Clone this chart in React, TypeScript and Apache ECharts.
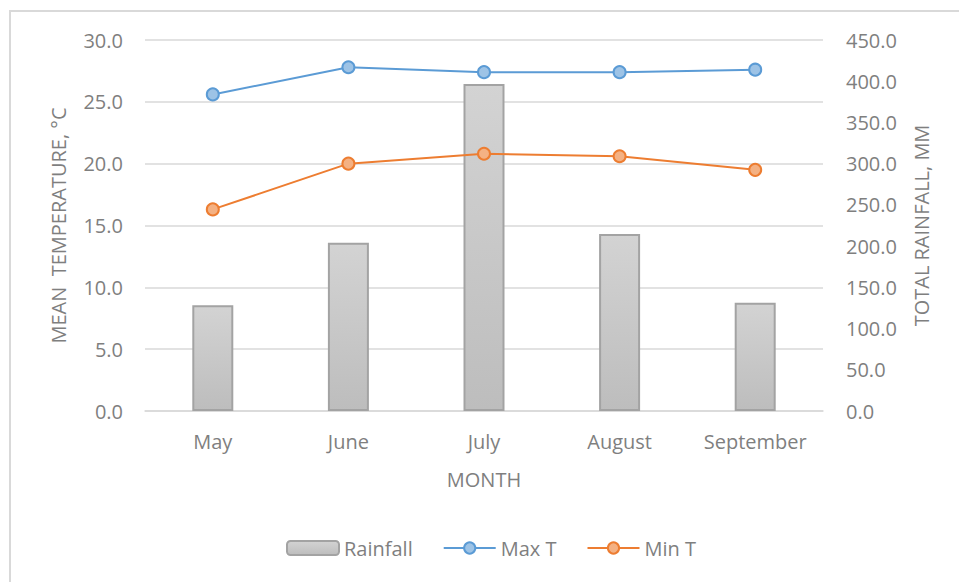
import React, { useEffect, useRef } from "react";
import * as echarts from "echarts";

const months = ["May", "June", "July", "August", "September"];
const rainfall = [128.2, 204.2, 396.7, 214.7, 131.4];
const maxT = [25.6, 27.8, 27.4, 27.4, 27.6];
const minT = [16.3, 20.0, 20.8, 20.6, 19.5];

const FONT = "'Open Sans', sans-serif";
const TEXT = "#7f7f7f";
const GRID = "#d9d9d9";

export default function App() {
  const ref = useRef<HTMLDivElement>(null);
  useEffect(() => {
    if (!ref.current) return;
    const chart = echarts.init(ref.current, null, { renderer: "svg" });
    chart.setOption({
      animation: false,
      backgroundColor: "#ffffff",
      textStyle: { fontFamily: FONT, color: TEXT },
      graphic: [
        {
          type: "rect",
          z: -10,
          silent: true,
          shape: { x: 10, y: 11, width: 1000, height: 1000 },
          style: { fill: "none", stroke: "#d9d9d9", lineWidth: 2 },
        },
      ],
      grid: { left: 145, right: 136, top: 40, bottom: 171, containLabel: false },
      legend: {
        left: 281,
        top: 533,
        itemWidth: 52,
        itemHeight: 14,
        itemGap: 30,
        textStyle: { fontFamily: FONT, fontSize: 20, color: TEXT },
        data: ["Rainfall", "Max T", "Min T"],
      },
      xAxis: {
        type: "category",
        data: months,
        name: "MONTH",
        nameLocation: "middle",
        nameGap: 58,
        nameTextStyle: { fontFamily: FONT, fontSize: 20, color: TEXT },
        axisLine: { show: true, lineStyle: { color: GRID, width: 1.5 } },
        axisTick: { show: false },
        axisLabel: { fontFamily: FONT, fontSize: 20, color: TEXT, margin: 20 },
      },
      yAxis: [
        {
          type: "value",
          min: 0,
          max: 30,
          interval: 5,
          name: "MEAN  TEMPERATURE, °C",
          nameLocation: "middle",
          nameRotate: 90,
          nameGap: 77,
          nameTextStyle: { fontFamily: FONT, fontSize: 20, color: TEXT },
          axisLine: { show: false },
          axisTick: { show: false },
          axisLabel: {
            fontFamily: FONT,
            fontSize: 20,
            color: TEXT,
            margin: 22,
            formatter: (v: number) => v.toFixed(1),
          },
          splitLine: { show: true, lineStyle: { color: GRID, width: 1.5 } },
        },
        {
          type: "value",
          min: 0,
          max: 450,
          interval: 50,
          name: "TOTAL RAINFALL, MM",
          nameLocation: "middle",
          nameRotate: 90,
          nameGap: 88,
          nameTextStyle: { fontFamily: FONT, fontSize: 20, color: TEXT },
          axisLine: { show: false },
          axisTick: { show: false },
          axisLabel: {
            fontFamily: FONT,
            fontSize: 20,
            color: TEXT,
            margin: 23,
            formatter: (v: number) => v.toFixed(1),
          },
          splitLine: { show: false },
        },
      ],
      series: [
        {
          name: "Rainfall",
          type: "bar",
          yAxisIndex: 1,
          data: rainfall,
          barWidth: 41,
          itemStyle: {
            color: new echarts.graphic.LinearGradient(0, 0, 0, 1, [
              { offset: 0, color: "#d3d3d3" },
              { offset: 1, color: "#bdbdbd" },
            ]),
            borderColor: "#a3a3a3",
            borderWidth: 2,
          },
        },
        {
          name: "Max T",
          type: "line",
          yAxisIndex: 0,
          data: maxT,
          symbol: "circle",
          symbolSize: 12,
          lineStyle: { color: "#5b9bd5", width: 2 },
          itemStyle: { color: "#9dc3e6", borderColor: "#5b9bd5", borderWidth: 2 },
          z: 5,
        },
        {
          name: "Min T",
          type: "line",
          yAxisIndex: 0,
          data: minT,
          symbol: "circle",
          symbolSize: 12,
          lineStyle: { color: "#ed7d31", width: 2 },
          itemStyle: { color: "#f4b183", borderColor: "#ed7d31", borderWidth: 2 },
          z: 5,
        },
      ],
    });
    return () => chart.dispose();
  }, []);
  return (
    <div
      ref={ref}
      style={{ position: "absolute", left: 0, top: 0, width: 959, height: 582 }}
    />
  );
}
